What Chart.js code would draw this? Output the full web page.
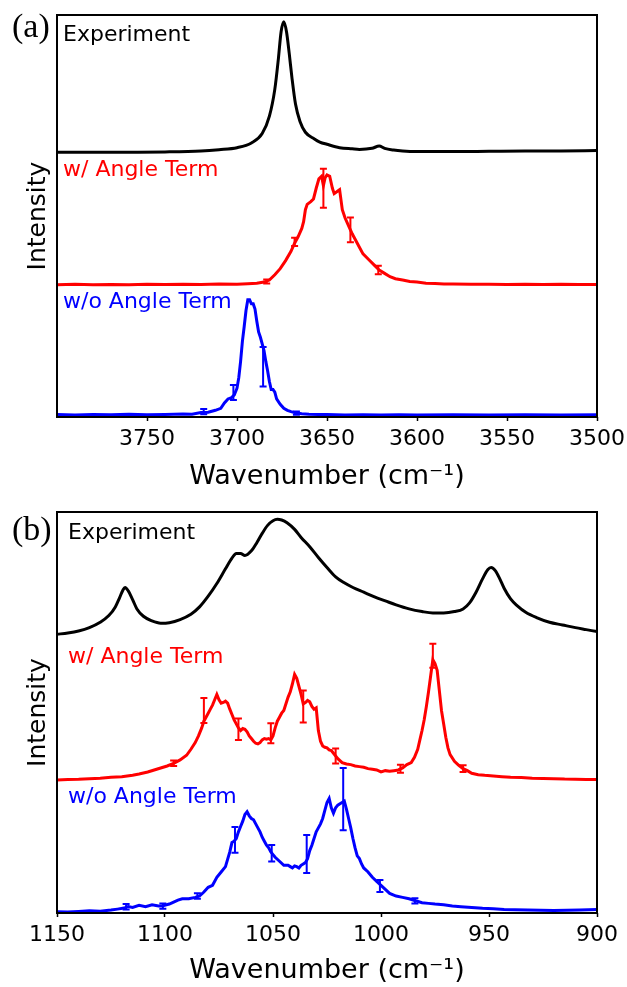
<!DOCTYPE html>
<html>
<head>
<meta charset="utf-8">
<script src="https://cdn.jsdelivr.net/npm/chart.js@4.4.0/dist/chart.umd.min.js"></script>
<style>
  body { margin: 0; background: #fff; }
  #wrap { position: relative; width: 627px; height: 987px; }
  canvas { position: absolute; left: 0; }
</style>
</head>
<body>
<div id="wrap">
  <canvas id="chartA" width="627" height="493" style="top:0px"></canvas>
  <canvas id="chartB" width="627" height="494" style="top:493px"></canvas>
</div>
<script>
// ---------- panel (a): 3500-3800 cm-1 ----------
const xTicksA = [3750, 3700, 3650, 3600, 3550, 3500];

const expA_x = [3800, 3780, 3760, 3740, 3720, 3710, 3700, 3692, 3686, 3682, 3679, 3677, 3675.5, 3674, 3672.5, 3671, 3669.5, 3667.5, 3665, 3662, 3657, 3654, 3650, 3643, 3636, 3632, 3625, 3621, 3618, 3613, 3608, 3600, 3580, 3560, 3540, 3520, 3500];
const expA_y = [0, 0, 0.001, 0.003, 0.01, 0.02, 0.035, 0.07, 0.14, 0.27, 0.47, 0.70, 0.90, 0.975, 0.9, 0.74, 0.56, 0.36, 0.23, 0.15, 0.1, 0.077, 0.06, 0.035, 0.026, 0.022, 0.03, 0.047, 0.03, 0.017, 0.01, 0.006, 0.006, 0.008, 0.01, 0.011, 0.013];

const redA_x = [3800, 3790, 3780, 3770, 3760, 3750, 3740, 3730, 3720, 3710, 3700, 3694, 3689, 3685, 3682, 3679, 3676, 3673, 3670, 3668, 3666, 3664, 3663, 3662, 3661, 3659, 3657.5, 3656, 3654.5, 3653, 3652, 3651, 3650, 3648.5, 3647, 3646, 3644, 3643, 3641.5, 3640, 3638, 3636, 3634, 3632, 3630, 3627, 3624, 3621, 3618, 3615, 3612, 3608, 3604, 3600, 3595, 3590, 3585, 3580, 3570, 3560, 3550, 3540, 3530, 3520, 3510, 3500];
const redA_y = [0, 0.003, 0, 0.002, 0, 0.003, 0.001, 0.003, 0.002, 0.005, 0.004, 0.008, 0.012, 0.02, 0.035, 0.075, 0.12, 0.18, 0.25, 0.31, 0.36, 0.42, 0.47, 0.56, 0.6, 0.62, 0.64, 0.72, 0.79, 0.81, 0.74, 0.8, 0.82, 0.81, 0.72, 0.68, 0.7, 0.71, 0.56, 0.5, 0.44, 0.38, 0.33, 0.28, 0.23, 0.19, 0.15, 0.11, 0.085, 0.06, 0.045, 0.035, 0.025, 0.02, 0.012, 0.01, 0.005, 0.006, 0.003, 0.004, 0.002, 0.003, 0.001, 0.003, 0.002, 0.002];
const redA_errX = [3683.5, 3668, 3652, 3637, 3621.5];
const redA_errC = [0.025, 0.32, 0.72, 0.41, 0.11];
const redA_errE = [0.015, 0.03, 0.146, 0.092, 0.031];

const blueA_x = [3800, 3790, 3780, 3770, 3760, 3750, 3740, 3730, 3725, 3720, 3716, 3712, 3709, 3707, 3705, 3703, 3701.5, 3700, 3699, 3698, 3697, 3696, 3695, 3694, 3693, 3692, 3691, 3690, 3689, 3688, 3687, 3686, 3685, 3684, 3683, 3682, 3681, 3680, 3679, 3678, 3676, 3674, 3672, 3670, 3667, 3664, 3660, 3655, 3650, 3640, 3630, 3620, 3610, 3600, 3580, 3560, 3540, 3520, 3500];
const blueA_y = [0.003, 0, 0.004, 0.002, 0.005, 0.002, 0.004, 0.008, 0.006, 0.018, 0.02, 0.035, 0.05, 0.09, 0.12, 0.13, 0.15, 0.2, 0.28, 0.4, 0.55, 0.66, 0.78, 0.86, 0.86, 0.83, 0.83, 0.79, 0.7, 0.62, 0.58, 0.53, 0.48, 0.4, 0.33, 0.25, 0.19, 0.19, 0.17, 0.12, 0.08, 0.05, 0.035, 0.025, 0.014, 0.01, 0.006, 0.004, 0.003, 0, 0.002, 0, 0.002, 0, 0.001, 0, 0.001, 0, 0.001];
const blueA_errX = [3718.5, 3702, 3685.5, 3667];
const blueA_errC = [0.025, 0.168, 0.36, 0.014];
const blueA_errE = [0.02, 0.056, 0.147, 0.012];

const offsetsA = [1.975, 0.987, 0.015];   // experiment, w/, w/o

// ---------- panel (b): 900-1150 cm-1 ----------
const xTicksB = [1150, 1100, 1050, 1000, 950, 900];

const expB_x = [1150, 1145, 1140, 1135, 1130, 1126, 1123, 1121, 1119.5, 1118.5, 1117, 1115, 1113, 1110, 1106, 1102, 1098, 1093, 1088, 1084, 1080, 1076, 1072, 1069, 1067, 1065, 1063, 1060, 1057.5, 1055, 1052.5, 1050, 1048, 1046, 1043.5, 1040, 1037, 1033, 1029, 1025, 1021, 1017, 1013, 1008, 1003, 998, 993, 987, 981, 976, 971, 966, 962, 959, 956, 953, 950.5, 949, 947, 945, 943, 940, 937, 933, 928, 922, 916, 910, 905, 900];
const expB_y = [0.085, 0.095, 0.11, 0.135, 0.175, 0.225, 0.29, 0.36, 0.415, 0.435, 0.41, 0.345, 0.275, 0.22, 0.185, 0.168, 0.172, 0.195, 0.235, 0.29, 0.37, 0.465, 0.575, 0.655, 0.69, 0.69, 0.675, 0.71, 0.77, 0.84, 0.9, 0.935, 0.945, 0.94, 0.92, 0.87, 0.81, 0.74, 0.66, 0.585, 0.515, 0.47, 0.435, 0.4, 0.365, 0.335, 0.305, 0.275, 0.255, 0.245, 0.245, 0.255, 0.275, 0.32, 0.4, 0.5, 0.57, 0.585, 0.56, 0.5, 0.43, 0.35, 0.3, 0.25, 0.21, 0.175, 0.155, 0.135, 0.12, 0.105];

const redB_x = [1150, 1145, 1140, 1135, 1130, 1125, 1120, 1115, 1112, 1108, 1105, 1102, 1099, 1096, 1093, 1090, 1088, 1086, 1084.5, 1083, 1082, 1081, 1080, 1079, 1078, 1077, 1076, 1075, 1074, 1073, 1072, 1071, 1070, 1069, 1068, 1067, 1066, 1065, 1064, 1063, 1062, 1061, 1060, 1059, 1058, 1057, 1056, 1055, 1054, 1053, 1052, 1051, 1050, 1049, 1048, 1047, 1046, 1045, 1044, 1043, 1042, 1041, 1040, 1039, 1038, 1037, 1036, 1035, 1034, 1033, 1032, 1031, 1030, 1029, 1028, 1027, 1026, 1025, 1024, 1023, 1022, 1020, 1018, 1016, 1014, 1012, 1010, 1008, 1006, 1004, 1002, 1000, 998, 996, 994, 992, 990, 988, 986, 984.5, 983, 982, 981, 980, 979, 978, 977, 976, 975, 974, 973, 972, 971, 970, 969, 968, 966, 964, 962, 960, 958, 955, 952, 948, 944, 940, 935, 930, 925, 920, 915, 910, 905, 900];
const redB_y = [0, 0.004, 0.006, 0.01, 0.013, 0.02, 0.025, 0.036, 0.045, 0.06, 0.075, 0.09, 0.105, 0.125, 0.15, 0.185, 0.23, 0.28, 0.33, 0.39, 0.44, 0.47, 0.5, 0.53, 0.56, 0.6, 0.64, 0.6, 0.575, 0.58, 0.59, 0.575, 0.53, 0.49, 0.45, 0.42, 0.39, 0.37, 0.385, 0.38, 0.36, 0.33, 0.31, 0.29, 0.275, 0.27, 0.28, 0.3, 0.31, 0.305, 0.31, 0.3, 0.33, 0.39, 0.44, 0.47, 0.5, 0.52, 0.57, 0.62, 0.66, 0.72, 0.79, 0.76, 0.7, 0.64, 0.57, 0.58, 0.595, 0.585, 0.55, 0.53, 0.54, 0.37, 0.29, 0.255, 0.245, 0.24, 0.225, 0.22, 0.2, 0.16, 0.13, 0.12, 0.115, 0.105, 0.1, 0.095, 0.085, 0.08, 0.075, 0.06, 0.07, 0.065, 0.07, 0.075, 0.09, 0.115, 0.13, 0.17, 0.23, 0.3, 0.37, 0.45, 0.55, 0.66, 0.78, 0.9, 0.87, 0.82, 0.67, 0.52, 0.42, 0.32, 0.24, 0.19, 0.14, 0.11, 0.085, 0.07, 0.05, 0.04, 0.035, 0.03, 0.025, 0.02, 0.018, 0.013, 0.012, 0.01, 0.007, 0.006, 0.004, 0.003];
const redB_errX = [1096, 1082, 1066, 1051, 1036, 1021, 991, 976, 962];
const redB_errC = [0.125, 0.52, 0.38, 0.35, 0.55, 0.18, 0.085, 0.93, 0.085];
const redB_errE = [0.02, 0.094, 0.08, 0.075, 0.12, 0.056, 0.03, 0.09, 0.025];

const blueB_x = [1150, 1145, 1140, 1135, 1130, 1125, 1122, 1119, 1117, 1115, 1112, 1109, 1106, 1103, 1101, 1098, 1096, 1094, 1092, 1089, 1086, 1084, 1082, 1080, 1078, 1076, 1074, 1072, 1070, 1069, 1068, 1067, 1066, 1065, 1064, 1063, 1062, 1061, 1060, 1059, 1058, 1057, 1056, 1055, 1054, 1053, 1052, 1051, 1050, 1049, 1047, 1045, 1043, 1042, 1041, 1040, 1039, 1038, 1037, 1036, 1035, 1034, 1033, 1032, 1031, 1030, 1029, 1028, 1027, 1026, 1025, 1024, 1023, 1022, 1021, 1020, 1019, 1018, 1017, 1016, 1015, 1014, 1013, 1012, 1011, 1010, 1009, 1008, 1006, 1004, 1002, 1000, 998, 996, 993, 990, 987, 984, 981, 978, 975, 971, 967, 963, 958, 953, 948, 943, 938, 932, 926, 920, 914, 908, 904, 900];
const blueB_y = [0.002, 0, 0.005, 0.01, 0.007, 0.015, 0.022, 0.03, 0.042, 0.035, 0.05, 0.04, 0.055, 0.045, 0.048, 0.06, 0.075, 0.09, 0.1, 0.1, 0.11, 0.12, 0.15, 0.185, 0.2, 0.26, 0.3, 0.34, 0.45, 0.52, 0.53, 0.55, 0.6, 0.64, 0.68, 0.73, 0.75, 0.72, 0.7, 0.69, 0.66, 0.63, 0.6, 0.56, 0.53, 0.5, 0.48, 0.45, 0.43, 0.41, 0.38, 0.35, 0.35, 0.34, 0.33, 0.345, 0.34, 0.33, 0.35, 0.36, 0.37, 0.4, 0.46, 0.5, 0.55, 0.6, 0.63, 0.66, 0.7, 0.76, 0.82, 0.85, 0.78, 0.74, 0.78, 0.8, 0.81, 0.82, 0.83, 0.77, 0.7, 0.63, 0.55, 0.48, 0.42, 0.4, 0.36, 0.33, 0.3, 0.26, 0.23, 0.2, 0.17, 0.14, 0.12, 0.11, 0.1, 0.085, 0.07, 0.065, 0.06, 0.055, 0.045, 0.04, 0.035, 0.028, 0.025, 0.02, 0.018, 0.015, 0.014, 0.012, 0.013, 0.015, 0.017, 0.019];
const blueB_errX = [1118, 1101, 1085, 1067.6, 1050.6, 1034.4, 1017.5, 1000.5, 984.3];
const blueB_errC = [0.04, 0.045, 0.12, 0.54, 0.44, 0.434, 0.845, 0.195, 0.084];
const blueB_errE = [0.02, 0.02, 0.02, 0.097, 0.062, 0.142, 0.232, 0.044, 0.02];

const offsetsB = [2.0, 0.995, 0.007];

const traceLabels = ["Experiment", "w/ Angle Term", "w/o Angle Term"];
const traceColors = ["#000000", "#ff0000", "#0000ff"];

function pts(xs, ys, off) {
  return xs.map((x, i) => ({ x: x, y: ys[i] + off }));
}

// error bars + labels + frame
function decorPlugin(panel, bars, labelPos) {
  return {
    id: "decor" + panel,
    afterDatasetsDraw(chart) {
      const ctx = chart.ctx;
      const sx = chart.scales.x, sy = chart.scales.y;
      const a = chart.chartArea;
      ctx.save();
      ctx.lineWidth = 2;
      bars.forEach(b => {
        ctx.strokeStyle = b.color;
        b.x.forEach((w, i) => {
          const px = sx.getPixelForValue(w);
          const t = sy.getPixelForValue(b.c[i] + b.off + b.e[i]);
          const d = sy.getPixelForValue(b.c[i] + b.off - b.e[i]);
          ctx.beginPath();
          ctx.moveTo(px, t); ctx.lineTo(px, d);
          ctx.moveTo(px - 3.5, t); ctx.lineTo(px + 3.5, t);
          ctx.moveTo(px - 3.5, d); ctx.lineTo(px + 3.5, d);
          ctx.stroke();
        });
      });
      // frame
      ctx.strokeStyle = "#000";
      ctx.lineWidth = 2;
      ctx.strokeRect(a.left, a.top, a.right - a.left, a.bottom - a.top);
      // trace labels
      ctx.font = "22px 'DejaVu Sans'";
      ctx.textBaseline = "alphabetic";
      ctx.textAlign = "left";
      traceLabels.forEach((s, i) => {
        ctx.fillStyle = traceColors[i];
        ctx.fillText(s, labelPos.x, labelPos.y[i]);
      });
      ctx.fillStyle = "#000";
      ctx.font = "34px 'Liberation Serif'";
      ctx.fillText(panel, 12, labelPos.tag);
      ctx.restore();
    }
  };
}

function makeChart(id, cfg) {
  const datasets = cfg.series.map((s, i) => ({
    data: pts(s.x, s.y, cfg.offsets[i]),
    borderColor: traceColors[i],
    borderWidth: 3,
    pointRadius: 0,
    fill: false,
    tension: 0,
    cubicInterpolationMode: i === 0 ? "monotone" : "default"
  }));
  return new Chart(document.getElementById(id).getContext("2d"), {
    type: "line",
    data: { datasets: datasets },
    options: {
      responsive: false,
      animation: false,
      devicePixelRatio: 1,
      layout: { padding: { top: cfg.top, right: 30, left: 0, bottom: 0 } },
      plugins: { legend: { display: false }, tooltip: { enabled: false } },
      scales: {
        x: {
          type: "linear",
          reverse: true,
          min: cfg.xmin,
          max: cfg.xmax,
          afterBuildTicks: (sc) => { sc.ticks = cfg.ticks.map(v => ({ value: v })); },
          afterFit: (sc) => { sc.height = cfg.xh; sc.paddingLeft = 0; sc.paddingRight = 0; },
          ticks: {
            color: "#000",
            font: { family: "DejaVu Sans", size: 22 },
            padding: 5,
            maxRotation: 0,
            autoSkip: false,
            callback: (v) => String(v)
          },
          grid: { display: true, drawOnChartArea: false, drawTicks: true, tickLength: 4, tickWidth: 1.5, tickColor: "#000" },
          border: { display: false },
          title: {
            display: true,
            text: "Wavenumber (cm\u207B\u00B9)",
            color: "#000",
            font: { family: "DejaVu Sans", size: 27, lineHeight: 1.2 },
            padding: { top: 0, bottom: 0 }
          }
        },
        y: {
          min: 0,
          max: 3.0,
          afterFit: (sc) => { sc.width = 57; },
          ticks: { display: false },
          grid: { display: false },
          border: { display: false },
          title: {
            display: true,
            text: "Intensity",
            color: "#000",
            font: { family: "DejaVu Sans", size: 25, lineHeight: 1.2 },
            padding: { top: 23, bottom: 0 }
          }
        }
      }
    },
    plugins: [decorPlugin(cfg.tag, cfg.bars, cfg.labels)]
  });
}

makeChart("chartA", {
  tag: "(a)",
  top: 15, xh: 76,
  xmin: 3500, xmax: 3800,
  ticks: xTicksA,
  offsets: offsetsA,
  series: [{ x: expA_x, y: expA_y }, { x: redA_x, y: redA_y }, { x: blueA_x, y: blueA_y }],
  bars: [
    { color: traceColors[1], x: redA_errX, c: redA_errC, e: redA_errE, off: offsetsA[1] },
    { color: traceColors[2], x: blueA_errX, c: blueA_errC, e: blueA_errE, off: offsetsA[2] }
  ],
  labels: { x: 63, y: [41, 176, 308], tag: 37 }
});

makeChart("chartB", {
  tag: "(b)",
  top: 19, xh: 74,
  xmin: 900, xmax: 1150,
  ticks: xTicksB,
  offsets: offsetsB,
  series: [{ x: expB_x, y: expB_y }, { x: redB_x, y: redB_y }, { x: blueB_x, y: blueB_y }],
  bars: [
    { color: traceColors[1], x: redB_errX, c: redB_errC, e: redB_errE, off: offsetsB[1] },
    { color: traceColors[2], x: blueB_errX, c: blueB_errC, e: blueB_errE, off: offsetsB[2] }
  ],
  labels: { x: 68, y: [46, 170, 310], tag: 47 }
});
</script>
</body>
</html>
